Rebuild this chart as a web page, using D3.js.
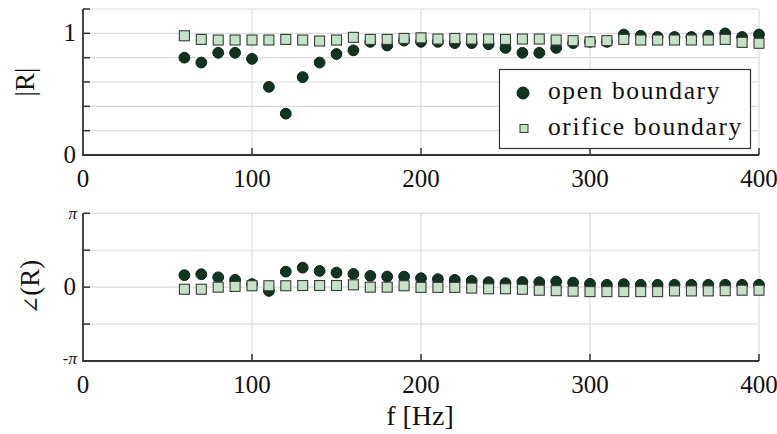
<!DOCTYPE html>
<html>
<head>
<meta charset="utf-8">
<script src="https://cdn.jsdelivr.net/npm/d3@7"></script>
<style>
  body { margin: 0; background: #fff; }
  svg text { font-family: "Liberation Serif", "Times New Roman", serif; fill: #111; }
</style>
</head>
<body>
<svg id="chart" width="777" height="434" font-family="Liberation Serif"></svg>
<script>
'use strict';

// frequency points [Hz]
var freqs = [60, 70, 80, 90, 100, 110, 120, 130, 140, 150, 160, 170, 180, 190, 200,
             210, 220, 230, 240, 250, 260, 270, 280, 290, 300, 310, 320, 330, 340,
             350, 360, 370, 380, 390, 400];

// |R|
var openMag    = [0.80, 0.76, 0.84, 0.84, 0.79, 0.56, 0.34, 0.64, 0.76, 0.83,
                  0.86, 0.93, 0.90, 0.94, 0.93, 0.93, 0.92, 0.92, 0.91, 0.88,
                  0.84, 0.84, 0.88, 0.92, 0.93, 0.93, 0.99, 0.98, 0.97, 0.97,
                  0.97, 0.98, 1.00, 0.97, 0.99];
var orificeMag = [0.98, 0.95, 0.945, 0.945, 0.945, 0.945, 0.95, 0.945, 0.937, 0.945,
                  0.967, 0.95, 0.95, 0.958, 0.963, 0.953, 0.958, 0.953, 0.953, 0.95,
                  0.953, 0.953, 0.945, 0.94, 0.93, 0.94, 0.95, 0.945, 0.945, 0.945,
                  0.945, 0.945, 0.95, 0.926, 0.918];

// angle(R) [rad]
var openPhase    = [0.51, 0.55, 0.42, 0.31, 0.13, -0.16, 0.66, 0.83, 0.69, 0.62,
                    0.56, 0.48, 0.45, 0.45, 0.38, 0.34, 0.31, 0.27, 0.21, 0.17,
                    0.22, 0.21, 0.24, 0.19, 0.14, 0.10, 0.13, 0.10, 0.10, 0.10,
                    0.10, 0.10, 0.10, 0.10, 0.10];
var orificePhase = [-0.09, -0.09, 0.00, 0.03, 0.06, 0.06, 0.06, 0.07, 0.07, 0.07,
                    0.10, 0.00, 0.00, 0.06, -0.01, -0.01, -0.01, -0.04, -0.07, -0.07,
                    -0.09, -0.13, -0.15, -0.17, -0.19, -0.19, -0.19, -0.19, -0.19, -0.16,
                    -0.16, -0.16, -0.15, -0.13, -0.13];

var xTicks      = [0, 100, 200, 300, 400];
var magTicks    = [0, 0.2, 0.4, 0.6, 0.8, 1, 1.2];
var magLabels   = {0: "0", 1: "1"};
var phaseTicks  = [-Math.PI, -Math.PI / 2, 0, Math.PI / 2, Math.PI];
var seriesNames = ["open boundary", "orifice boundary"];

var darkFill  = "#0f3521",
    lightFill = "#c3e2c8",
    gridCol   = "#dcdcdc",
    axisCol   = "#333";

var svg = d3.select("#chart");

var x = d3.scaleLinear().domain([0, 400]).range([83, 759]);
var yMag = d3.scaleLinear().domain([0, 1.2]).range([155, 9]);
var yPh  = d3.scaleLinear().domain([-Math.PI, Math.PI]).range([361, 213.3]);

function panel(y, yTicks) {
    var g = svg.append("g");
    var y0 = y.range()[0], y1 = y.range()[1];
    // grid
    g.selectAll("line.hg").data(yTicks.slice(1)).enter().append("line")
        .attr("x1", x(0)).attr("x2", x(400))
        .attr("y1", function(d){return y(d)}).attr("y2", function(d){return y(d)})
        .attr("stroke", gridCol).attr("stroke-width", 1.2);
    g.selectAll("line.vg").data(xTicks.slice(1)).enter().append("line")
        .attr("x1", function(d){return x(d)}).attr("x2", function(d){return x(d)})
        .attr("y1", y0).attr("y2", y1)
        .attr("stroke", gridCol).attr("stroke-width", 1.2);
    // ticks
    g.selectAll("line.yt").data(yTicks).enter().append("line")
        .attr("x1", x(0)).attr("x2", x(0) + 7)
        .attr("y1", function(d){return y(d)}).attr("y2", function(d){return y(d)})
        .attr("stroke", axisCol).attr("stroke-width", 1.5);
    g.selectAll("line.xt").data(xTicks.slice(1)).enter().append("line")
        .attr("x1", function(d){return x(d)}).attr("x2", function(d){return x(d)})
        .attr("y1", y0).attr("y2", y0 - 7)
        .attr("stroke", axisCol).attr("stroke-width", 1.5);
    // axis lines
    g.append("path")
        .attr("d", "M" + x(0) + "," + y1 + "V" + y0 + "H" + x(400))
        .attr("fill", "none").attr("stroke", axisCol).attr("stroke-width", 1.8);
    // x tick labels
    g.selectAll("text.xl").data(xTicks).enter().append("text")
        .attr("x", function(d){return x(d)}).attr("y", y0 + 32)
        .attr("text-anchor", "middle").attr("font-size", 25)
        .text(function(d){return d});
    return g;
}

function drawSeries(g, y, vals, shape) {
    var data = freqs.map(function(f, i){return {f: f, v: vals[i]}});
    if (shape == "circle") {
        g.selectAll(null).data(data).enter().append("circle")
            .attr("cx", function(d){return x(d.f)})
            .attr("cy", function(d){return y(d.v)})
            .attr("r", 5.4)
            .attr("fill", darkFill).attr("stroke", "#0a1f14").attr("stroke-width", 1);
    } else {
        g.selectAll(null).data(data).enter().append("rect")
            .attr("x", function(d){return x(d.f) - 5})
            .attr("y", function(d){return y(d.v) - 5})
            .attr("width", 10).attr("height", 10)
            .attr("fill", lightFill).attr("stroke", "#3a3a3a").attr("stroke-width", 1.1);
    }
}

// top panel: |R|
var magPanel = panel(yMag, magTicks);
magPanel.selectAll("text.yl").data([0, 1]).enter().append("text")
    .attr("x", 76).attr("y", function(d){return yMag(d) + 8})
    .attr("text-anchor", "end").attr("font-size", 25)
    .text(function(d){return magLabels[d]});
drawSeries(magPanel, yMag, openMag, "circle");
drawSeries(magPanel, yMag, orificeMag, "square");

// legend
var leg = svg.append("g");
leg.append("rect").attr("x", 499.5).attr("y", 69.5).attr("width", 251).attr("height", 79)
    .attr("fill", "#fff").attr("stroke", axisCol).attr("stroke-width", 1.2);
leg.append("circle").attr("cx", 523).attr("cy", 93).attr("r", 6)
    .attr("fill", darkFill).attr("stroke", "#0a1f14");
leg.append("rect").attr("x", 520).attr("y", 124.5).attr("width", 8).attr("height", 8)
    .attr("fill", lightFill).attr("stroke", "#3a3a3a");
leg.selectAll("text").data(seriesNames).enter().append("text")
    .attr("x", 548).attr("y", function(d, i){return 99 + i * 36})
    .attr("font-size", 25.5).attr("letter-spacing", 1.6)
    .text(function(d){return d});

// bottom panel: angle(R)
var phPanel = panel(yPh, phaseTicks);
phPanel.append("text").attr("x", 76).attr("y", yPh(0) + 8)
    .attr("text-anchor", "end").attr("font-size", 25).text("0");
phPanel.append("text").attr("x", 77).attr("y", yPh(Math.PI) + 6)
    .attr("text-anchor", "end").attr("font-size", 17).attr("font-style", "italic").text("π");
phPanel.append("text").attr("x", 77).attr("y", yPh(-Math.PI) + 3)
    .attr("text-anchor", "end").attr("font-size", 17).attr("font-style", "italic")
    .text("-π");
drawSeries(phPanel, yPh, openPhase, "circle");
drawSeries(phPanel, yPh, orificePhase, "square");

// axis titles
svg.append("text").attr("transform", "translate(34,82) rotate(-90)")
    .attr("text-anchor", "middle").attr("font-size", 27).text("|R|");
var angLabel = svg.append("text").attr("transform", "translate(39,287) rotate(-90)")
    .attr("text-anchor", "middle").attr("font-size", 27);
angLabel.append("tspan").style("font-family", "'DejaVu Serif'").attr("font-size", 22)
    .style("font-weight", 300).text("∠");
angLabel.append("tspan").text("(R)");
svg.append("text").attr("x", 420).attr("y", 425)
    .attr("text-anchor", "middle").attr("font-size", 28).text("f [Hz]");
</script>
</body>
</html>
